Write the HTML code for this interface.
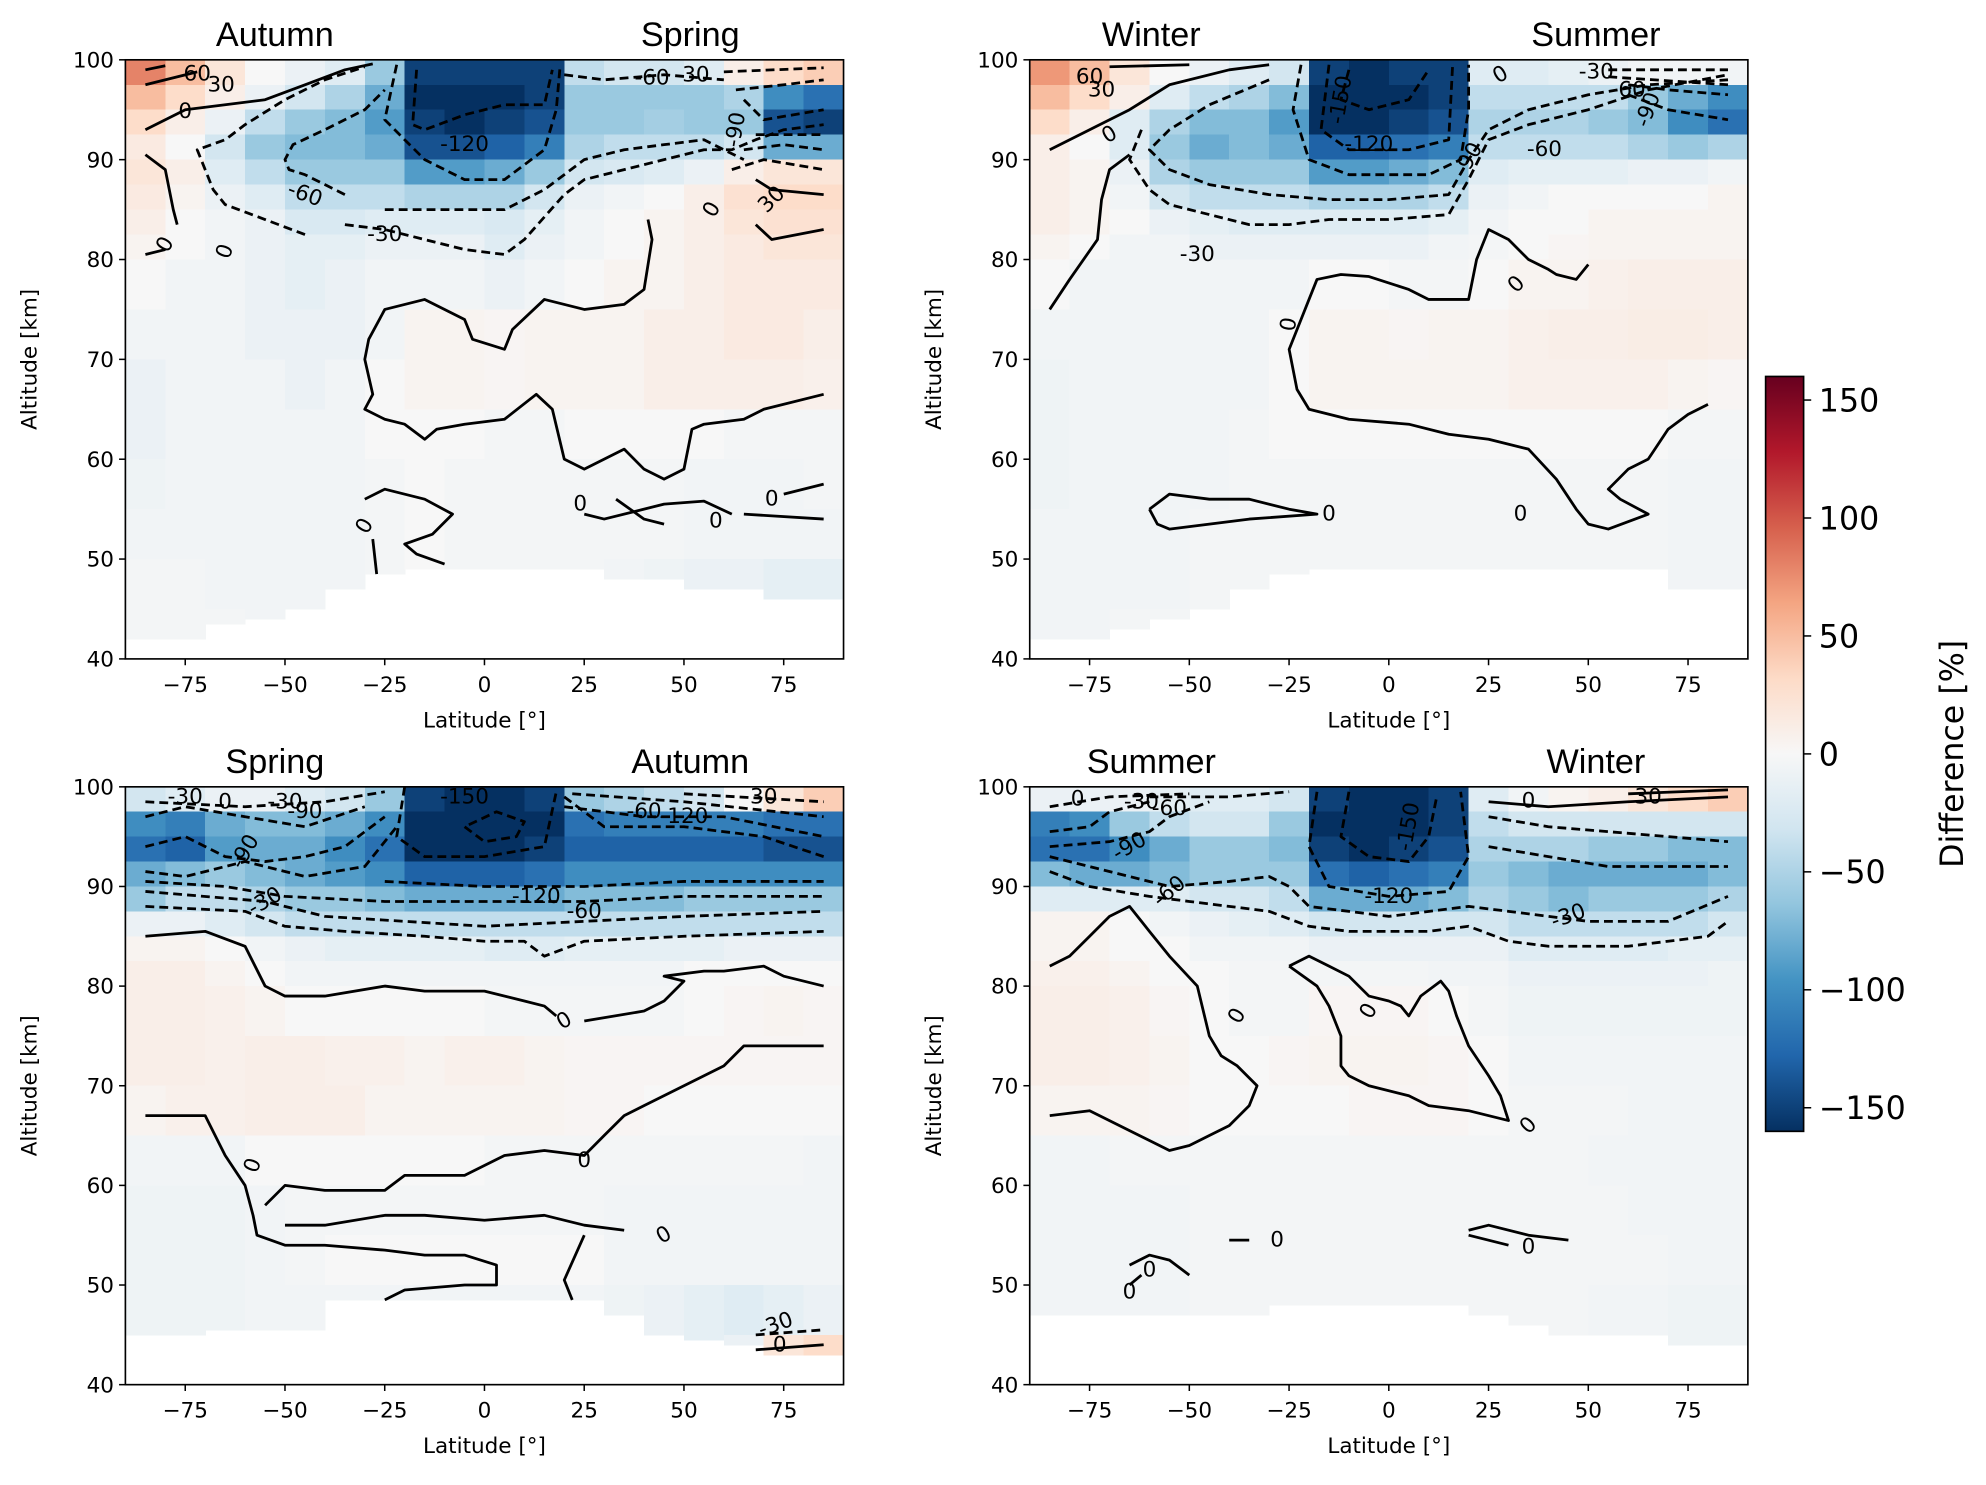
<!DOCTYPE html>
<html><head><meta charset="utf-8"><style>
html,body{margin:0;padding:0;background:#fff}
svg{display:block;font-family:"DejaVu Sans","Liberation Sans",sans-serif}
</style></head><body>
<svg id="fig" xmlns="http://www.w3.org/2000/svg" width="1986" height="1485" viewBox="0 0 1568 1172"></svg>
<script>
const NS="http://www.w3.org/2000/svg";
// ---- data ----
const lats=[-85,-75,-65,-55,-45,-35,-25,-15,-5,5,15,25,35,45,55,65,75,85];
const altEdges=[100,97.5,95,92.5,90,87.5,85,82.5,80,75,70,65,60,55,50,45,40];
const N=NaN;
// lowest altitude with data, per latitude column
const bottomP1=[42,42,43.5,44,45,47,48.5,49,49,49,49,49,48,48,47,47,46,46];
const bottomP2=[42,42,43,44,45,47,48.5,49,49,49,49,49,49,49,49,49,47,47];
const bottomP3=[45,45,45.5,45.5,45.5,48.5,48.5,48.5,48.5,48.5,48.5,48.5,47,45,44.5,44,43,43];
const bottomP4=[47,47,47,47,47,47,48,48,48,48,48,47,46,45,45,45,44,44];
const diffP1=[
[80,50,20,0,-10,-20,-60,-150,-150,-150,-150,-40,-30,-30,-20,10,30,40],
[50,30,10,-10,-30,-50,-80,-160,-160,-160,-150,-60,-60,-60,-60,-50,-100,-120],
[30,10,-10,-40,-60,-70,-90,-150,-160,-150,-140,-60,-60,-55,-60,-60,-140,-150],
[15,0,-30,-60,-70,-70,-80,-140,-140,-130,-110,-50,-40,-40,-40,-30,-80,-80],
[20,10,-20,-40,-60,-60,-60,-90,-90,-80,-60,-30,-25,-20,-10,10,20,20],
[15,5,-10,-20,-40,-40,-40,-50,-50,-50,-30,-10,-5,0,10,25,30,30],
[10,0,-5,-10,-25,-25,-20,-20,-20,-25,-15,-5,0,5,10,20,25,25],
[5,0,-5,-10,-15,-15,-10,-10,-10,-20,-10,-5,0,5,10,15,20,20],
[0,-5,-5,-10,-15,-10,-5,-5,-5,-10,-5,0,5,5,10,15,15,15],
[-5,-5,-5,-10,-10,-10,-5,5,5,3,5,5,5,10,10,15,15,10],
[-10,-5,-5,-5,-10,-5,0,5,5,3,5,5,5,10,10,10,10,8],
[-10,-5,-5,-5,-5,-5,0,0,0,-3,-3,0,0,0,0,-3,-3,-3],
[-8,-5,-5,-5,-5,-5,-3,0,-3,-3,-3,-3,-3,-3,-5,-5,-5,-3],
[-5,-5,-5,-5,-5,-5,-3,0,-3,-3,-3,-3,-3,-3,-5,-5,-5,-5],
[-3,-3,-5,-5,-5,-5,-3,N,N,N,N,N,-5,-8,-10,-10,-15,-15],
[-3,-3,-3,-5,-5,N,N,N,N,N,N,N,N,N,N,N,N,N]];
const diffP2=[
[70,50,20,0,-10,-20,-30,-150,-160,-150,-150,-20,-20,-15,-10,-5,-5,-5],
[50,30,10,-20,-40,-50,-70,-160,-160,-160,-150,-40,-40,-40,-40,-60,-80,-100],
[30,10,-20,-50,-70,-70,-90,-160,-160,-150,-140,-50,-50,-50,-60,-70,-100,-120],
[10,0,-20,-60,-80,-70,-80,-130,-130,-120,-110,-40,-40,-40,-40,-50,-60,-50],
[10,5,-10,-50,-60,-60,-60,-90,-90,-80,-70,-20,-15,-15,-15,-10,-10,-5],
[10,5,-5,-30,-40,-40,-40,-50,-50,-50,-40,-10,-5,0,0,0,0,5],
[10,5,0,-10,-15,-20,-20,-20,-20,-20,-15,-5,0,0,5,5,5,5],
[5,0,-5,-5,-10,-10,-10,-10,-10,-10,-5,-3,0,3,5,5,5,5],
[0,-5,-5,-5,-5,-5,-5,0,0,-3,-3,0,5,5,8,10,10,10],
[-5,-5,-5,-5,-5,-5,0,5,5,3,5,5,8,10,10,12,12,10],
[-8,-5,-5,-5,-5,-5,0,5,5,5,5,5,8,8,8,8,5,3],
[-8,-5,-5,-5,-5,-3,0,0,0,0,0,0,0,0,0,0,-3,-3],
[-8,-5,-5,-5,-5,-3,-3,-3,-3,-3,-3,-3,-3,-3,-3,-3,-5,-5],
[-5,-5,-5,-5,-3,-3,-3,-3,-3,-3,-3,-3,-3,-3,-3,-3,-5,-5],
[-5,-5,-5,-5,-3,-3,-3,N,N,N,N,N,N,N,N,N,-5,-5],
[-5,-5,-3,-3,-3,N,N,N,N,N,N,N,N,N,N,N,N,N]];
const diffP3=[
[-30,-20,-10,-10,-20,-30,-60,-150,-160,-160,-150,-60,-50,-40,-30,0,20,40],
[-100,-110,-80,-70,-70,-80,-100,-160,-160,-160,-160,-120,-110,-110,-110,-110,-120,-120],
[-120,-130,-90,-80,-80,-100,-120,-160,-160,-160,-150,-130,-130,-130,-130,-130,-140,-140],
[-80,-70,-60,-70,-80,-90,-100,-130,-130,-130,-120,-100,-100,-100,-100,-100,-100,-100],
[-60,-40,-40,-50,-60,-60,-70,-80,-80,-80,-80,-70,-70,-70,-60,-60,-60,-60],
[-10,-10,-20,-30,-40,-40,-40,-40,-40,-40,-40,-40,-40,-40,-40,-40,-40,-40],
[5,5,0,-5,-10,-15,-15,-15,-15,-20,-20,-15,-15,-15,-15,-10,-10,-10],
[10,10,5,0,-5,-5,-5,-5,-5,-5,-5,-5,-5,-5,0,0,0,0],
[10,10,8,5,0,0,0,0,0,-3,-3,-3,-3,-3,0,3,5,3],
[10,10,8,10,10,8,8,5,8,8,5,3,3,3,3,3,3,3],
[5,8,8,10,10,10,5,5,5,5,5,3,3,0,0,0,0,0],
[-5,-5,-5,0,0,0,0,0,0,-3,-3,-3,-3,-3,-3,-3,-3,-5],
[-8,-8,-8,-5,-3,-3,-3,-3,-3,-3,-3,-3,-5,-5,-5,-5,-5,-5],
[-8,-8,-8,-5,-3,0,0,0,0,0,0,0,-5,-5,-5,-5,-5,-5],
[-8,-8,-8,-5,-5,-5,-5,-5,-5,-5,-5,-5,-8,-10,-15,-20,-15,-10],
[N,N,N,N,N,N,N,N,N,N,N,N,N,N,-15,-10,20,30]];
const diffP4=[
[-10,-10,-10,-15,-20,-20,-30,-150,-160,-160,-150,-20,-5,5,10,20,30,40],
[-110,-100,-60,-40,-30,-30,-60,-160,-160,-160,-150,-40,-30,-30,-30,-30,-30,-30],
[-120,-120,-100,-80,-60,-60,-70,-150,-160,-150,-140,-50,-50,-50,-60,-60,-70,-70],
[-70,-80,-80,-70,-60,-60,-60,-120,-130,-120,-110,-60,-70,-80,-80,-80,-80,-70],
[-20,-20,-20,-20,-30,-30,-40,-80,-80,-80,-70,-50,-60,-70,-60,-60,-60,-50],
[5,5,0,-5,-10,-15,-20,-30,-30,-30,-30,-30,-40,-40,-40,-40,-40,-30],
[5,5,0,0,-5,-5,-5,-10,-10,-10,-10,-10,-20,-20,-20,-20,-15,-15],
[8,8,5,0,0,-3,-3,-3,-3,-3,-5,-5,-10,-10,-10,-10,-10,-8],
[10,10,8,3,0,-3,-3,3,3,3,0,-3,-8,-8,-8,-8,-8,-8],
[10,10,8,5,0,0,3,5,5,5,3,0,-5,-5,-5,-5,-5,-5],
[5,5,5,3,0,0,0,0,3,3,3,0,-3,-3,-3,-5,-5,-5],
[-5,-5,-3,-3,-3,-3,-3,-3,-3,-3,-3,-3,-3,-3,-5,-5,-5,-5],
[-5,-5,-5,-5,-3,-3,-3,-3,-3,-3,-3,-3,-3,-3,-3,-5,-5,-5],
[-5,-5,-5,-5,-3,-3,-3,-3,-3,-3,-3,-3,-3,-3,-3,-3,-5,-5],
[-5,-5,-5,-5,-3,-3,-3,-3,-3,-3,-3,-3,-3,-3,-5,-5,-8,-8],
[N,N,N,N,N,N,N,N,N,N,N,N,N,N,N,N,-8,-8]];
// contour lines: [level, points [lat,alt]...]
const contP1=[
[0,[[41,84],[42,82],[40,77],[35,75.5],[25,75],[15,76],[7,73],[5,71],[-3,72],[-5,74],[-15,76],[-25,75],[-29,72],[-30,70],[-28,66.5],[-30,65],[-25,64],[-20,63.5],[-15,62],[-12,63],[-5,63.5],[5,64],[13,66.5],[17,65],[20,60],[25,59],[35,61],[40,59],[45,58],[50,59],[52,63],[55,63.5],[65,64],[70,65],[85,66.5]]],
[0,[[-85,93],[-75,95],[-55,96],[-45,97.5],[-35,99],[-28,99.6]]],
[30,[[-85,97.5],[-72,98.8]]],[60,[[-85,99],[-80,99.4]]],
[0,[[-85,90.5],[-80,89],[-78,85],[-77,83.5]]],[0,[[-80,81],[-85,80.5]]],
[-30,[[-45,82.5],[-55,84],[-65,85.5],[-68,87],[-72,91],[-65,92],[-60,93.5],[-50,96],[-40,98],[-30,99.3]]],
[-30,[[-35,83.5],[-25,83],[-15,82],[-5,81],[5,80.5],[10,82],[20,86.5],[25,88],[35,89],[45,90],[55,91],[62,91],[68,92],[75,93],[85,93.5]]],
[-60,[[-35,86.5],[-45,88.5],[-49,89],[-50,90],[-48,91.5],[-40,93],[-30,95],[-25,97]]],
[-60,[[-25,85],[-10,85],[5,85],[15,87],[25,90],[35,91],[45,91.5],[55,92],[60,91],[65,90]]],
[-90,[[-22,99.5],[-25,94],[-20,92],[-15,90],[-5,88],[5,88],[15,91],[18,95],[19,99.5]]],
[-120,[[-17,99],[-18,93.5],[-15,93],[-5,94.5],[5,95.5],[15,95.5],[17,99]]],
[-60,[[20,98.5],[30,98],[45,98.5],[60,98]]],
[-90,[[62,89],[70,90],[85,89]]],[-90,[[65,91],[75,91.5],[85,91]]],[-90,[[68,92.5],[85,92.5]]],
[-120,[[65,96],[70,94],[85,95]]],[-90,[[63,97],[75,97.5],[85,98]]],[-60,[[60,98.8],[85,99.2]]],
[30,[[68,88],[72,87],[85,86.5]]],[30,[[68,83.5],[72,82],[85,83]]],
[0,[[-30,56],[-25,57],[-15,56],[-8,54.5],[-13,52.5],[-20,51.5],[-17,50.5],[-10,49.5]]],
[0,[[-28,52],[-27,48.5]]],
[0,[[25,54.5],[30,54],[45,55.5],[55,55.8],[62,54.5]]],[0,[[33,56],[40,54],[45,53.5]]],
[0,[[65,54.5],[85,54]]],[0,[[75,56.5],[85,57.5]]]];
const labP1=[[-72,98.6,"60"],[-66,97.5,"30"],[-75,94.8,"0"],[-80,81.5,"0",-60],[-65,80.8,"0",-70],[-45,86.5,"-60",20],[-25,82.5,"-30"],[-5,91.5,"-120"],[42,98.2,"-60"],[53,98.5,"30"],[57,85,"0",-60],[72,86,"30",-45],[63,93,"-90",-80],[24,55.5,"0"],[58,53.8,"0"],[72,56,"0"],[-30,53.3,"0",-60]];
const contP2=[
[0,[[-85,91],[-75,93],[-65,95],[-55,97.5],[-40,99],[-30,99.5]]],
[0,[[-85,75],[-80,78],[-73,82],[-72,86],[-70,89],[-65,90.5]]],
[0,[[50,79.5],[47,78],[42,78.5],[40,79],[35,80],[30,82],[25,83],[22,80],[20,76],[15,76],[10,76],[5,77],[-5,78.3],[-12,78.5],[-18,78],[-20,76],[-22,74],[-25,71],[-23,67],[-20,65],[-10,64],[5,63.5],[15,62.5],[25,62],[35,61],[42,58],[47,55],[50,53.5],[55,53],[65,54.5],[58,56],[55,57],[60,59],[65,60],[70,63],[75,64.5],[80,65.5]]],
[0,[[-60,55],[-55,56.5],[-45,56],[-35,56],[-25,55],[-18,54.5],[-35,54],[-45,53.5],[-55,53],[-58,53.5],[-60,55]]],
[-30,[[-62,93],[-65,90],[-60,87],[-55,85.5],[-45,84.5],[-35,83.5],[-25,83.5],[-15,84],[0,84],[15,84.5],[20,88],[25,92],[35,93.5],[50,95],[65,97],[85,98.5]]],
[-60,[[-30,98],[-45,95.5],[-55,93],[-60,91],[-55,89],[-45,87.5],[-30,86.5],[-15,86],[0,86],[15,86.5],[20,90],[25,93],[35,95],[50,96.5],[65,97.5],[85,98]]],
[-90,[[-22,99.5],[-24,95],[-20,90],[-10,88.5],[10,88.5],[18,90],[20,95],[20,99.5]]],
[-120,[[-15,99.5],[-17,93],[-10,91],[5,91],[15,92],[16,99.5]]],
[-150,[[-10,99],[-12,96],[-5,95],[5,96],[10,99]]],
[-90,[[60,96.5],[70,95],[85,94]]],[-90,[[60,97.5],[70,97],[85,96.5]]],[-60,[[55,98.3],[85,97.5]]],[-30,[[55,99],[85,99]]],
[0,[[-70,99.3],[-50,99.5]]]];
const labP2=[[-75,98.3,"60"],[-72,97,"30"],[-70,92.5,"0",-30],[-12,96,"-150",-80],[-5,91.5,"-120"],[20,90,"-90",-60],[39,91,"-60"],[-48,80.5,"-30"],[60,97,"-60"],[65,95,"-90",-70],[-25,73.5,"0",-80],[32,77.5,"0",-45],[-15,54.5,"0"],[33,54.5,"0"],[52,98.8,"-30"],[28,98.5,"0",-30]];
const contP3=[
[-30,[[-85,98.5],[-60,98],[-40,98.5],[-25,99.5]]],
[-60,[[-85,97],[-75,98],[-60,97],[-45,96],[-30,98]]],
[-90,[[-85,94],[-75,95],[-65,93],[-55,92.5],[-45,93],[-35,94],[-25,97]]],
[-90,[[-85,91.5],[-75,91],[-60,92.5],[-55,92],[-45,91],[-30,92],[-22,96]]],
[-30,[[-85,88],[-60,87.5],[-50,86],[-35,85.5],[-15,85],[0,84.5],[10,84.5],[15,83],[25,84.5],[50,85],[85,85.5]]],
[-60,[[-85,89.5],[-55,88.5],[-40,87],[-20,86.5],[0,86],[25,86.5],[50,87],[85,87.5]]],
[-90,[[-85,90.5],[-65,90],[-50,89],[-25,88.5],[0,88.5],[25,88.5],[50,89],[85,89]]],
[-120,[[-25,90.5],[0,90],[25,90],[50,90.5],[85,90.5]]],
[-150,[[-20,100],[-22,95],[-15,93],[0,93],[15,94],[18,99.5]]],
[-150,[[-5,96],[0,94.5],[8,95],[10,96.5],[3,97.5],[-5,96]]],
[-120,[[20,99],[30,96],[50,96],[70,95],[85,93]]],[-120,[[20,98],[40,97],[60,97],[85,95]]],
[-90,[[22,99.3],[50,98.5],[85,97]]],[-60,[[50,99.3],[85,98.5]]],
[0,[[-85,85],[-70,85.5],[-60,84],[-55,80],[-50,79],[-40,79],[-25,80],[-15,79.5],[0,79.5],[10,78.5],[15,78],[18,77]]],
[0,[[25,76.5],[40,77.5],[45,78.5],[50,80.5],[45,81],[55,81.5],[60,81.5],[70,82],[75,81],[85,80]]],
[0,[[-85,67],[-70,67],[-65,63],[-60,60],[-58,57],[-57,55],[-50,54],[-40,54],[-25,53.5],[-15,53],[-5,53],[3,52],[3,50],[-5,50],[-20,49.5],[-25,48.5]]],
[0,[[-55,58],[-50,60],[-40,59.5],[-25,59.5],[-20,61],[-5,61],[5,63],[15,63.5],[25,63],[30,65],[35,67],[40,68],[50,70],[60,72],[65,74],[85,74]]],
[0,[[-50,56],[-40,56],[-25,57],[-15,57],[0,56.5],[15,57],[25,56],[35,55.5]]],
[0,[[25,55],[20,50.5],[22,48.5]]],
[-30,[[68,45],[85,45.5]]],[0,[[68,43.5],[85,44]]]];
const labP3=[[-75,99,"-30"],[-65,98.5,"0"],[-50,98.5,"-30"],[-45,97.5,"-90"],[-60,93.5,"-90",-60],[-55,88.5,"-30",-30],[-5,99,"-150"],[13,89,"-120"],[25,87.5,"-60"],[40,97.5,"-60"],[50,97,"-120"],[70,99,"30"],[20,76.5,"0",-30],[-58,62,"0",-70],[25,62.5,"0"],[45,55,"0",-30],[73,46,"-30",-20],[74,44,"0"]];
const contP4=[
[-30,[[-85,98],[-70,99],[-50,99.3]]],
[-30,[[-85,91.5],[-75,90],[-60,89],[-50,88.5],[-30,87.5],[-20,86],[-10,85.5],[10,85.5],[20,86],[30,84.5],[40,84],[50,84],[60,84],[70,84.5],[80,85],[85,86.5]]],
[-60,[[-85,93],[-65,91],[-55,90],[-40,90.5],[-30,91],[-25,90],[-20,88],[0,87],[20,88],[30,87.5],[50,86.5],[70,86.5],[85,89]]],
[-90,[[-85,94],[-70,94.5],[-60,95.5],[-55,97],[-45,98.5]]],
[-90,[[-85,95.5],[-75,96],[-70,97.5],[-60,98.5]]],
[-60,[[-60,99],[-40,99],[-25,99.5]]],
[-120,[[-18,99.5],[-20,94],[-15,90],[0,89],[15,89.5],[20,93],[18,99.5]]],
[-150,[[-10,99.5],[-12,95],[-5,93],[5,92.5],[10,95],[12,99]]],
[-30,[[25,97],[40,96],[55,95.5],[70,95],[85,94.5]]],
[0,[[25,98.5],[40,98],[60,98.5],[85,99]]],[30,[[60,99.3],[85,99.7]]],
[-60,[[25,94],[40,93],[55,92],[70,92],[85,92]]],
[0,[[-85,67],[-75,67.5],[-65,65.5],[-55,63.5],[-50,64],[-45,65],[-40,66],[-35,68],[-33,70],[-38,72],[-42,73],[-45,75],[-48,80],[-55,83],[-60,85.5],[-65,88],[-70,87],[-75,85],[-80,83],[-85,82]]],
[0,[[-25,82],[-18,80],[-15,78],[-12,75],[-12,72],[-10,71],[-5,70],[5,69],[10,68],[20,67.5],[30,66.5],[28,69],[25,71],[20,74],[17,77],[15,79.5],[13,80.5],[8,79],[5,77],[3,78],[0,78.5],[-5,79],[-10,81],[-15,82],[-20,83],[-25,82]]],
[0,[[-40,54.5],[-35,54.5]]],
[0,[[20,55.5],[25,56],[35,55],[45,54.5]]],[0,[[20,55],[30,54]]],
[0,[[-65,52],[-60,53],[-55,52.5],[-50,51]]],[0,[[-65,50],[-62,51]]]];
const labP4=[[-78,98.8,"0"],[-62,98.5,"-30"],[-55,97.8,"-60"],[-65,94,"-90",-30],[-55,89.5,"-60",-40],[5,96,"-150",-80],[0,89,"-120"],[45,87,"-30",-20],[35,98.6,"0"],[65,99,"30"],[-38,77,"0",-60],[-5,77.5,"0",-60],[35,66,"0",-45],[-28,54.5,"0"],[35,53.8,"0"],[-60,51.5,"0"],[-65,49.3,"0"]];

// ---- drawing ----
const svg=document.getElementById('fig');
function mk(tag,attrs,parent){const e=document.createElementNS(NS,tag);for(const k in attrs)e.setAttribute(k,attrs[k]);(parent||svg).appendChild(e);return e;}
const stops=["#053061","#2166ac","#4393c3","#92c5de","#d1e5f0","#f7f7f7","#fddbc7","#f4a582","#d6604d","#b2182b","#67001f"];
function hex(h){return [1,3,5].map(i=>parseInt(h.substr(i,2),16));}
function cmap(v){let t=(v+160)/320;t=Math.max(0,Math.min(1,t));const p=t*10,i=Math.min(9,Math.floor(p)),f=p-i;const a=hex(stops[i]),b=hex(stops[i+1]);return `rgb(${a.map((x,k)=>Math.round(x+(b[k]-x)*f)).join(',')})`;}

const panels=[
{x:99,y:47,w:567,h:473,data:diffP1,bot:bottomP1,cont:contP1,lab:labP1,t1:"Autumn",t2:"Spring",name:"panel-autumn-spring"},
{x:813,y:47,w:567,h:473,data:diffP2,bot:bottomP2,cont:contP2,lab:labP2,t1:"Winter",t2:"Summer",name:"panel-winter-summer"},
{x:99,y:621,w:567,h:472,data:diffP3,bot:bottomP3,cont:contP3,lab:labP3,t1:"Spring",t2:"Autumn",name:"panel-spring-autumn"},
{x:813,y:621,w:567,h:472,data:diffP4,bot:bottomP4,cont:contP4,lab:labP4,t1:"Summer",t2:"Winter",name:"panel-summer-winter"}];

panels.forEach((P,pi)=>{
  const g=mk('g',{});
  
  
  const sx=lat=>P.x+(lat+90)/180*P.w;
  const sy=alt=>P.y+(100-alt)/60*P.h;
  const cells=mk('g',{'shape-rendering':'crispEdges'},g);
  
  
  lats.forEach((lat,ci)=>{
    let last=NaN;
    P.data.forEach((row,ri)=>{
      let v=row[ci];
      if(isNaN(v))v=last; else last=v;
      const top=altEdges[ri],bot=Math.max(altEdges[ri+1],P.bot[ci]);
      if(isNaN(v)||bot>=top)return;
      const r=mk('rect',{x:sx(lat-5),y:sy(top),width:sx(lat+5)-sx(lat-5)+0.5,height:sy(bot)-sy(top)+0.5,fill:cmap(v)},cells);
      
      
    });
  });
  const cg=mk('g',{fill:'none',stroke:'#000','stroke-width':2.2,'stroke-linejoin':'round'},g);
  P.cont.forEach(c=>{
    const d=c[1].map((p,i)=>(i?'L':'M')+sx(p[0]).toFixed(1)+','+sy(p[1]).toFixed(1)).join('');
    const a={d:d};if(c[0]<0)a['stroke-dasharray']='7,4';
    const pth=mk('path',a,cg);
    
    
  });
  P.lab.forEach(l=>{
    const t=mk('text',{x:sx(l[0]),y:sy(l[1]),'font-size':17,'text-anchor':'middle','dominant-baseline':'central',transform:`rotate(${l[3]||0} ${sx(l[0])} ${sy(l[1])})`},g);
    t.textContent=l[2];
    
    
  });
  const fr=mk('rect',{x:P.x,y:P.y,width:P.w,height:P.h,fill:'none',stroke:'#000','stroke-width':1.3},g);
  
  
  [-75,-50,-25,0,25,50,75].forEach(v=>{
    mk('line',{x1:sx(v),x2:sx(v),y1:P.y+P.h,y2:P.y+P.h+5,stroke:'#000','stroke-width':1.2},g);
    const t=mk('text',{x:sx(v),y:P.y+P.h+26,'font-size':17,'text-anchor':'middle'},g);
    t.textContent=v<0?'\u2212'+(-v):String(v);
    
    
  });
  [40,50,60,70,80,90,100].forEach(v=>{
    mk('line',{x1:P.x-5,x2:P.x,y1:sy(v),y2:sy(v),stroke:'#000','stroke-width':1.2},g);
    const t=mk('text',{x:P.x-9,y:sy(v)+6,'font-size':17,'text-anchor':'end'},g);
    t.textContent=v;
    
    
  });
  const xl=mk('text',{x:P.x+P.w/2,y:P.y+P.h+54,'font-size':17,'text-anchor':'middle'},g);
  xl.textContent='Latitude [°]';
  
  
  const yl=mk('text',{x:0,y:0,'font-size':17,'text-anchor':'middle',transform:`translate(${P.x-70},${P.y+P.h/2}) rotate(-90)`},g);
  yl.textContent='Altitude [km]';
  
  
  const off=pi%2? [96,447]:[118,446];
  const t1=mk('text',{x:P.x+off[0],y:P.y-11,'font-size':27,'text-anchor':'middle','font-family':'"Liberation Sans",sans-serif'},g);
  t1.textContent=P.t1;
  
  
  const t2=mk('text',{x:P.x+off[1],y:P.y-11,'font-size':27,'text-anchor':'middle','font-family':'"Liberation Sans",sans-serif'},g);
  t2.textContent=P.t2;
  
  
});

// colorbar
const cbTicks=[150,100,50,0,-50,-100,-150];
const cb={x:1394,y:297,w:30,h:596};
const defs=mk('defs',{});
const lg=mk('linearGradient',{id:'cbg',x1:0,y1:1,x2:0,y2:0},defs);
stops.forEach((c,i)=>mk('stop',{offset:i/10,'stop-color':c},lg));
const cbg=mk('g',{});


mk('rect',{x:cb.x,y:cb.y,width:cb.w,height:cb.h,fill:'url(#cbg)',stroke:'#000','stroke-width':1.3},cbg);
const cy=v=>cb.y+(160-v)/320*cb.h;
cbTicks.forEach(v=>{
  mk('line',{x1:cb.x+cb.w,x2:cb.x+cb.w+6,y1:cy(v),y2:cy(v),stroke:'#000','stroke-width':1.2},cbg);
  const t=mk('text',{x:cb.x+cb.w+12,y:cy(v)+9,'font-size':25},cbg);
  t.textContent=v<0?'\u2212'+(-v):String(v);
  
  
});
const ct=mk('text',{x:0,y:0,'font-size':25,'text-anchor':'middle',transform:`translate(1550,${cb.y+cb.h/2}) rotate(-90)`},cbg);
ct.textContent='Difference [%]';


</script>
</body></html>
